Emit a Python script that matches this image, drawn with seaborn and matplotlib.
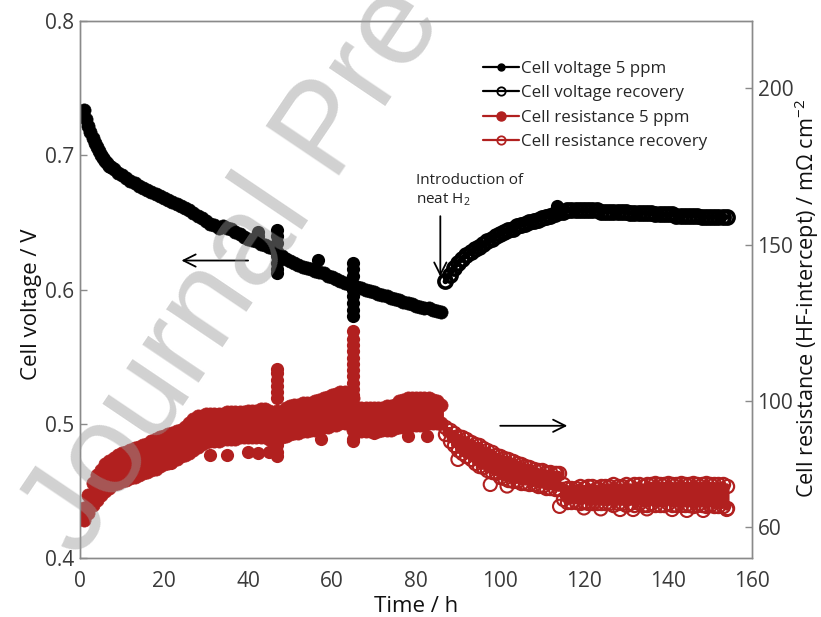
import numpy as np
import matplotlib
matplotlib.use("Agg")
import matplotlib.pyplot as plt
from matplotlib.lines import Line2D
import seaborn as sns

sns.set_theme(style="white")
plt.rcParams["font.family"] = ["Open Sans", "DejaVu Sans"]
plt.rcParams["mathtext.fontset"] = "custom"
plt.rcParams["mathtext.rm"] = "Open Sans"
plt.rcParams["mathtext.it"] = "Open Sans:italic"

# ---------------- data ----------------
# Cell voltage during 5 ppm exposure (V); half-hourly over the first hours
volt5_time = [1, 1.5, 2, 2.5, 3, 3.5, 4, 4.5, 5, 5.5, 6, 6.5, 7, 7.5, 8, 9, 10,
              11, 12, 13, 14, 15, 16, 17, 18, 19, 20,
              21, 22, 23, 24, 25, 26, 27, 28, 29, 30,
              31, 32, 33, 34, 35, 36, 37, 38, 39, 40,
              41, 42, 43, 44, 45, 46, 47, 48, 49, 50,
              51, 52, 53, 54, 55, 56, 57, 58, 59, 60,
              61, 62, 63, 64, 65, 66, 67, 68, 69, 70,
              71, 72, 73, 74, 75, 76, 77, 78, 79, 80,
              81, 82, 83, 84, 85, 86]
volt5 = [0.734, 0.727, 0.722, 0.717, 0.713, 0.709, 0.706, 0.703, 0.700, 0.698,
         0.696, 0.694, 0.692, 0.691, 0.690, 0.687, 0.685,
         0.683, 0.681, 0.679, 0.677, 0.676, 0.674, 0.673, 0.671, 0.670, 0.668,
         0.667, 0.665, 0.664, 0.662, 0.661, 0.659, 0.657, 0.655, 0.653, 0.651,
         0.649, 0.648, 0.646, 0.647, 0.646, 0.645, 0.643, 0.641, 0.639, 0.638,
         0.637, 0.636, 0.634, 0.633, 0.632, 0.631, 0.628, 0.625, 0.623, 0.621,
         0.620, 0.618, 0.617, 0.616, 0.615, 0.614, 0.613, 0.612, 0.610, 0.609,
         0.608, 0.606, 0.605, 0.604, 0.603, 0.602, 0.601, 0.600, 0.599, 0.598,
         0.597, 0.596, 0.595, 0.594, 0.593, 0.592, 0.591, 0.590, 0.589, 0.588,
         0.587, 0.586, 0.586, 0.585, 0.584, 0.583]
# short transients in the 5 ppm voltage record
volt5_spike_time = [42.4, 42.4, 47, 47, 47, 47, 47, 47, 47,
                    56.6, 65, 65, 65, 65, 65, 65, 65, 65]
volt5_spike = [0.643, 0.640, 0.644, 0.640, 0.635, 0.625, 0.620, 0.615, 0.612,
               0.622, 0.620, 0.615, 0.610, 0.600, 0.595, 0.590, 0.585, 0.580]

# Cell voltage after switching to neat H2 (hourly, V)
volt_rec_time = list(range(87, 155))
volt_rec = [0.606, 0.611, 0.616, 0.620, 0.623, 0.626, 0.628, 0.630, 0.632, 0.634,
            0.636, 0.638, 0.640, 0.641, 0.643, 0.644, 0.645, 0.647, 0.648, 0.649,
            0.650, 0.651, 0.652, 0.653, 0.654, 0.655, 0.656, 0.658, 0.658, 0.659,
            0.659, 0.659, 0.659, 0.659, 0.659, 0.659, 0.659, 0.658, 0.658, 0.658,
            0.658, 0.658, 0.658, 0.658, 0.657, 0.657, 0.657, 0.657, 0.657, 0.657,
            0.656, 0.656, 0.656, 0.656, 0.656, 0.655, 0.655, 0.655, 0.655, 0.655,
            0.655, 0.654, 0.654, 0.654, 0.654, 0.654, 0.654, 0.654]
volt_rec_spike_time = [113.6, 113.6]
volt_rec_spike = [0.662, 0.658]

# HF resistance during 5 ppm exposure: upper / lower scatter per hour (mOhm cm2)
res5_time = list(range(1, 87))
res5_upper = [66, 70, 74, 76.5, 78, 80, 81, 82, 83, 83.5,
              84, 84.5, 85, 85.5, 86, 86.5, 87.5, 88, 88.5, 89,
              89.5, 90, 90.5, 91, 92, 93, 94.5, 95.5, 95.5, 96,
              96, 96, 96, 96, 96.5, 96.5, 96.5, 96.5, 96.5, 97,
              97, 97, 97.5, 97.5, 97, 96, 97, 96, 98, 98.5,
              99, 99, 99.5, 99.5, 99.5, 100, 100.5, 101, 101.5, 102,
              102.5, 103, 103, 102.5, 101, 98, 98, 98, 98, 98,
              98, 98, 98.5, 98.5, 99, 100, 100.5, 101, 101, 101,
              101, 101, 101, 100.5, 100, 99]
res5_lower = [62, 64.5, 67, 68.5, 70, 71.5, 72.5, 73.5, 74, 74.5,
              75, 75.5, 76, 76.5, 77, 77.5, 78, 78.5, 79.5, 80,
              80.5, 81, 81.5, 82.5, 83, 83.5, 84.5, 85.5, 86.5, 87,
              87.5, 87.5, 87.5, 88, 88, 88, 88, 88.5, 88.5, 88.5,
              88.5, 88.5, 88.5, 88.5, 88, 87, 88, 88.5, 89, 89.5,
              90, 90, 90.5, 90.5, 91, 91, 91.5, 92, 92, 92.5,
              92.5, 93, 93, 93, 91, 90.5, 90.5, 90.5, 90.5, 90.5,
              90.5, 91, 91, 91, 91.5, 92, 92, 92.5, 92.5, 92.5,
              92.5, 92.5, 93, 93, 93, 93]
# isolated low readings and transients
res5_extra_time = [21.7, 31, 35, 40, 42.4, 45, 57.3, 70, 78, 82.7,
                   47, 47, 47, 47, 47, 47, 47, 47, 47,
                   65, 65, 65, 65, 65, 65, 65, 65, 65, 65, 65, 65, 65]
res5_extra = [80.5, 83, 83, 84, 83.5, 84, 88, 90, 89, 89,
              110.5, 109, 107, 105, 103, 101, 86, 84, 82.5,
              122.5, 120, 118, 116, 114, 112, 110, 108, 106, 104, 102, 88, 87.5]

# HF resistance during recovery: upper / lower scatter per hour
res_rec_time = list(range(87, 155))
res_rec_upper = [92, 91, 90, 89, 88.5, 88, 87, 86.5, 86, 85,
                 84.5, 84, 83, 82.5, 82, 81.5, 81, 80.5, 80, 79.5,
                 79, 78.5, 78, 78, 77.5, 77.5, 77, 77, 73.5, 72.5,
                 72.5, 72.5, 73, 72.5, 73, 73, 72.5, 73, 73, 73,
                 73.5, 73, 73, 73.5, 73, 73.5, 73.5, 73, 73.5, 73.5,
                 74, 73.5, 73.5, 74, 73.5, 73.5, 74, 73.5, 73.5, 74,
                 73.5, 73.5, 74, 73.5, 73.5, 73.5, 73.5, 73]
res_rec_lower = [89.5, 87.5, 86, 84.5, 83.5, 82.5, 81.5, 80.5, 79.5, 79,
                 78, 77.5, 77, 76, 75.5, 75, 74.5, 74.5, 74, 74,
                 73.5, 73.5, 73, 73, 72.5, 72.5, 72, 72, 69, 68,
                 68, 68, 67.5, 68, 67.5, 67.5, 67.5, 67.5, 67.5, 67.5,
                 67, 67.5, 67.5, 67, 67.5, 67, 67.5, 67, 67, 67.5,
                 67, 67, 67, 67.5, 67, 67, 67, 67, 67, 66.5,
                 67, 67, 66.5, 67, 66.5, 66.5, 66.5, 66]
res_rec_extra_time = [90, 97.7, 101.7, 113.6, 114.2, 120, 124, 128.6, 131.7,
                      135, 141, 144.5, 148.4, 154]
res_rec_extra = [81.5, 73.5, 73, 77, 66.5, 66, 65.7, 65.5, 65.5,
                 65.7, 65.5, 65.2, 65.2, 65.5]

# ---------------- figure ----------------
RED = "#b1201f"
SPINE = "#8a8a8a"
TICKTXT = "#3a3a3a"
LABEL = "#111111"

fig = plt.figure(figsize=(8.21, 6.17), dpi=100)
ax = fig.add_axes([0.0974, 0.0956, 0.8185, 0.8703])
ax2 = ax.twinx()

line_kw = dict(estimator=None, sort=False, legend=False, marker="o",
               markersize=9.5, linewidth=4)
DOT = 90  # scatter marker area for isolated readings

# voltage (left axis)
sns.lineplot(x=volt5_time, y=volt5, ax=ax, color="black",
             markeredgecolor="black", markeredgewidth=0.5, **line_kw)
sns.scatterplot(x=volt5_spike_time, y=volt5_spike, ax=ax, color="black",
                s=DOT, linewidth=0, legend=False)
sns.lineplot(x=volt_rec_time, y=volt_rec, ax=ax, color="black",
             markerfacecolor="none", markeredgecolor="black",
             markeredgewidth=2.6, **line_kw)
sns.scatterplot(x=volt_rec_spike_time, y=volt_rec_spike, ax=ax, color="black",
                s=DOT, linewidth=0, legend=False)

# resistance (right axis): zig-zag between upper and lower readings
res5_x = np.repeat(res5_time, 2)
res5_y = np.column_stack([res5_upper, res5_lower]).ravel()
sns.lineplot(x=res5_x, y=res5_y, ax=ax2, color=RED,
             markeredgecolor=RED, markeredgewidth=0.5, **line_kw)
sns.scatterplot(x=res5_extra_time, y=res5_extra, ax=ax2, color=RED,
                s=DOT, linewidth=0, legend=False)

rec_x = np.repeat(res_rec_time, 2)
rec_y = np.column_stack([res_rec_upper, res_rec_lower]).ravel()
sns.lineplot(x=rec_x, y=rec_y, ax=ax2, color=RED, markerfacecolor="none",
             markeredgecolor=RED, markeredgewidth=1.6, **line_kw)
sns.scatterplot(x=res_rec_extra_time, y=res_rec_extra, ax=ax2,
                facecolor="none", edgecolor=RED, s=DOT, linewidth=1.5,
                legend=False)

# axes limits and ticks
ax.set_xlim(0, 160)
ax.set_ylim(0.4, 0.8)
ax2.set_ylim(50, 221.5)
ax.set_xticks(range(0, 161, 20))
ax.set_yticks([0.4, 0.5, 0.6, 0.7, 0.8])
ax.set_yticklabels(["0.4", "0.5", "0.6", "0.7", "0.8"])
ax2.set_yticks([60, 100, 150, 200])

for a in (ax, ax2):
    for s in a.spines.values():
        s.set_color(SPINE)
        s.set_linewidth(1.0)
    a.tick_params(direction="in", length=5, width=1, color=SPINE,
                  labelsize=15, labelcolor=TICKTXT, pad=4)
ax.tick_params(axis="x", pad=9)

ax.set_xlabel("Time / h", fontsize=16, color=LABEL, labelpad=3)
ax.set_ylabel("Cell voltage / V", fontsize=16, color=LABEL)
ax.yaxis.set_label_coords(-0.057, 0.473)
ax2.set_ylabel("Cell resistance (HF-intercept) / m\u03a9 cm$^{-2}$",
               fontsize=15.6, color=LABEL, rotation=90)
ax2.yaxis.set_label_coords(1.06, 0.484)

# direction arrows and annotation
arrow = dict(arrowstyle="->", color="black", lw=1.3, mutation_scale=22)
ax.annotate("", xy=(23.5, 0.6216), xytext=(40.7, 0.6216), arrowprops=arrow)
ax.annotate("", xy=(116.7, 0.4985), xytext=(99.4, 0.4985), arrowprops=arrow)
ax.annotate("", xy=(85.8, 0.6075), xytext=(85.8, 0.6567), arrowprops=arrow)
ax.text(79.9, 0.687, "Introduction of\nneat H$_2$", ha="left", va="top",
        fontsize=11, color="#222222", linespacing=1.3)

# legend
handles = [
    Line2D([0], [0], color="black", lw=1.6, marker="o", markersize=5),
    Line2D([0], [0], color="black", lw=1.6, marker="o", markersize=6,
           markerfacecolor="none", markeredgewidth=1.3),
    Line2D([0], [0], color=RED, lw=1.6, marker="o", markersize=6.5),
    Line2D([0], [0], color=RED, lw=1.6, marker="o", markersize=6,
           markerfacecolor="none", markeredgewidth=1.3),
]
labels = ["Cell voltage 5 ppm", "Cell voltage recovery",
          "Cell resistance 5 ppm", "Cell resistance recovery"]
ax2.legend(handles, labels, loc="upper left", bbox_to_anchor=(0.5997, 0.926),
           frameon=False, fontsize=12.2, handlelength=2.1, handletextpad=0.12,
           labelspacing=0.5, borderpad=0, borderaxespad=0)

# watermark
fig.text(80 / 821, 1 - 560 / 617, "Journal Pre-proof", fontsize=92,
         family="Liberation Sans", color="#9a9a9a", alpha=0.45,
         rotation=56, rotation_mode="anchor", ha="left", va="baseline",
         zorder=10)

fig.savefig("out.png", dpi=100)
